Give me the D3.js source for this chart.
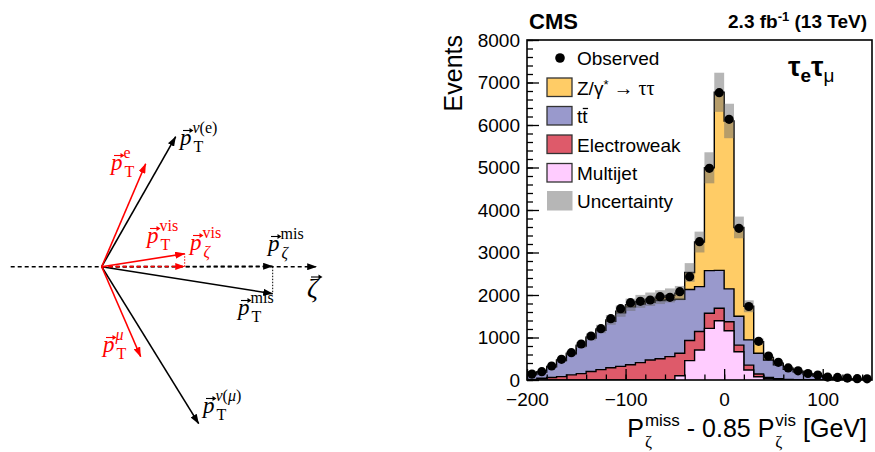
<!DOCTYPE html>
<html>
<head>
<meta charset="utf-8">
<script src="https://cdn.jsdelivr.net/npm/d3@7"></script>
<style>
  body { margin: 0; background: #fff; }
  svg { display: block; }
</style>
</head>
<body>
<svg id="chart" width="875" height="452"></svg>
<script>
// ---- Histogram data: 10 GeV bins of P_zeta^miss - 0.85 P_zeta^vis ----
const binCenters = [-195, -185, -175, -165, -155, -145, -135, -125, -115, -105,
                    -95, -85, -75, -65, -55, -45, -35, -25, -15, -5,
                    5, 15, 25, 35, 45, 55, 65, 75, 85, 95,
                    105, 115, 125, 135, 145];
const observed = [140, 196, 330, 486, 643, 847, 1035, 1208, 1443, 1678,
                  1820, 1851, 1882, 1961, 1945, 2078, 2431, 3255, 4980, 6761,
                  6133, 3569, 1730, 910, 565, 416, 285, 215, 153, 118,
                  70, 60, 45, 31, 27];
const multijet = [0, 0, 0, 0, 0, 0, 0, 0, 0, 0,
                  0, 0, 0, 0, 10, 100, 455, 705, 1215, 1395,
                  1160, 665, 235, 78, 30, 10, 5, 0, 0, 0,
                  0, 0, 0, 0, 0];
const electroweak = [15, 40, 60, 80, 120, 150, 200, 245, 290, 320,
                     360, 410, 470, 500, 540, 530, 475, 435, 355, 295,
                     210, 155, 115, 62, 30, 20, 10, 8, 5, 3,
                     2, 2, 2, 1, 1];
const ttbar = [115, 145, 250, 380, 495, 650, 790, 925, 1090, 1260,
               1360, 1380, 1360, 1370, 1340, 1270, 1200, 1056, 1003, 890,
               775, 680, 595, 490, 410, 325, 235, 187, 135, 92,
               53, 30, 18, 14, 9];
const ztautau = [5, 8, 10, 12, 15, 20, 25, 30, 35, 40,
                 50, 60, 70, 80, 100, 145, 400, 1050, 2420, 4190,
                 3950, 2090, 790, 270, 60, 40, 25, 15, 10, 8,
                 5, 4, 3, 2, 2];
const uncertainty = [12, 17, 27, 40, 52, 68, 84, 98, 115, 132,
                     145, 152, 158, 162, 165, 168, 220, 245, 365, 460,
                     405, 255, 140, 75, 45, 34, 24, 18, 13, 9,
                     6, 4, 3, 2, 2];

const xTicks = [-200, -100, 0, 100];
const yTicks = [0, 1000, 2000, 3000, 4000, 5000, 6000, 7000, 8000];
const processKeys = ["multijet", "electroweak", "ttbar", "ztautau"];

// ---- Transverse-momentum vectors of the sketch (arbitrary units, y up) ----
const electronPt = [44, 103];
const muonPt = [39, -90];
const neutrinoEPt = [74, 130];
const neutrinoMuPt = [97, -157];

const FONT = "'Liberation Sans', Arial, Helvetica, sans-serif";
const SERIF = "'Liberation Serif', 'Times New Roman', serif";

const svg = d3.select("#chart");

// =================== histogram panel ===================
const x = d3.scaleLinear().domain([-200, 150]).range([527, 872]);
const y = d3.scaleLinear().domain([0, 8000]).range([380, 40]);

svg.append("clipPath").attr("id", "plotclip")
  .append("rect").attr("x", 527).attr("y", 40).attr("width", 345).attr("height", 340);

const rows = binCenters.map((c, i) => ({
  center: c, multijet: multijet[i], electroweak: electroweak[i],
  ttbar: ttbar[i], ztautau: ztautau[i]
}));
const layers = d3.stack().keys(processKeys)(rows);
const halfBin = (binCenters[1] - binCenters[0]) / 2;

function stepPoints(values) {
  const pts = values.map((v, i) => [binCenters[i] - halfBin, v]);
  pts.push([binCenters[binCenters.length - 1] + halfBin, values[values.length - 1]]);
  return pts;
}

const area = d3.area().curve(d3.curveStepAfter)
  .x(p => x(p[0])).y0(y(0)).y1(p => y(p[1]));
const line = d3.line().curve(d3.curveStepAfter)
  .x(p => x(p[0])).y(p => y(p[1]));

const colors = {
  multijet: "#ffccff",
  electroweak: "#de5a6a",
  ttbar: "#9999cc",
  ztautau: "#ffcc66"
};

const plot = svg.append("g").attr("clip-path", "url(#plotclip)");

// cumulative stacks, largest first so each lower process overpaints
layers.slice().reverse().forEach(layer => {
  const pts = stepPoints(layer.map(d => d[1]));
  plot.append("path").attr("d", area(pts)).attr("fill", colors[layer.key]);
  plot.append("path").attr("d", line(pts)).attr("fill", "none")
    .attr("stroke", "#000").attr("stroke-width", 1.4);
});

// total background uncertainty
const totals = layers[layers.length - 1].map(d => d[1]);
plot.selectAll("rect.unc").data(binCenters).join("rect")
  .attr("class", "unc")
  .attr("x", c => x(c - halfBin))
  .attr("width", c => x(c + halfBin) - x(c - halfBin))
  .attr("y", (c, i) => y(totals[i] + uncertainty[i]))
  .attr("height", (c, i) => y(totals[i] - uncertainty[i]) - y(totals[i] + uncertainty[i]))
  .attr("fill", "#6e6e6e").attr("fill-opacity", 0.5);

// observed data
svg.append("g").selectAll("circle").data(binCenters).join("circle")
  .attr("cx", c => x(c)).attr("cy", (c, i) => y(observed[i]))
  .attr("r", 4.6).attr("fill", "#000");

// axes
const fmt = d => d < 0 ? "\u2212" + Math.abs(d) : String(d);
function styleAxis(g) {
  g.select(".domain").remove();
  g.selectAll("line").attr("stroke", "#000").attr("stroke-width", 1.3);
  g.selectAll("text").attr("font-family", FONT).attr("font-size", 19).attr("fill", "#000");
}
svg.append("g").attr("transform", "translate(0,380)")
  .call(d3.axisBottom(x).tickValues(d3.range(-200, 151, 20)).tickSize(-5.5).tickFormat(""))
  .call(styleAxis);
svg.append("g").attr("transform", "translate(0,380)")
  .call(d3.axisBottom(x).tickValues(xTicks).tickSize(-11).tickPadding(13).tickFormat(fmt))
  .call(styleAxis);
svg.append("g").attr("transform", "translate(527,0)")
  .call(d3.axisLeft(y).tickValues(d3.range(0, 8001, 200)).tickSize(-6).tickFormat(""))
  .call(styleAxis);
svg.append("g").attr("transform", "translate(527,0)")
  .call(d3.axisLeft(y).tickValues(yTicks).tickSize(-12).tickPadding(7).tickFormat(d3.format("d")))
  .call(styleAxis);

svg.append("rect").attr("x", 527).attr("y", 40).attr("width", 345).attr("height", 340)
  .attr("fill", "none").attr("stroke", "#000").attr("stroke-width", 1.6);

// helper for plain text
function addText(g, str, tx, ty, size, opts = {}) {
  return g.append("text").attr("x", tx).attr("y", ty)
    .attr("font-size", size)
    .attr("font-family", opts.family || FONT)
    .attr("font-weight", opts.weight || "normal")
    .attr("font-style", opts.style || "normal")
    .attr("text-anchor", opts.anchor || "start")
    .attr("fill", opts.fill || "#000")
    .text(str);
}
const widthOf = t => t.node().getComputedTextLength();

// axis titles
svg.append("text")
  .attr("transform", "translate(462,35) rotate(-90)")
  .attr("text-anchor", "end").attr("font-family", FONT).attr("font-size", 25)
  .text("Events");

const xt = svg.append("g");
{
  let cx = 0;
  const base = 437;
  const piece = (s, size, dy, fam) => addText(xt, s, cx, base + dy, size, { family: fam || FONT });
  let t = piece("P", 25, 0); cx += widthOf(t) + 1;
  const a = piece("miss", 17, -11); const b = piece("\u03b6", 17, 10, SERIF);
  cx += Math.max(widthOf(a), widthOf(b));
  t = piece("\u00a0- 0.85 P", 25, 0); cx += widthOf(t) + 1;
  const c2 = piece("vis", 17, -11); const d2 = piece("\u03b6", 17, 10, SERIF);
  cx += Math.max(widthOf(c2), widthOf(d2));
  t = piece("\u00a0[GeV]", 25, 0); cx += widthOf(t);
  xt.attr("transform", `translate(${867 - cx},0)`);
}

// header
addText(svg, "CMS", 529, 29, 22, { weight: "bold" });
svg.append("text").attr("x", 867).attr("y", 28).attr("text-anchor", "end")
  .attr("font-family", FONT).attr("font-weight", "bold").attr("font-size", 19)
  .call(t => {
    t.append("tspan").text("2.3 fb");
    t.append("tspan").attr("font-size", 13).attr("dy", -7).text("-1");
    t.append("tspan").attr("dy", 7).text(" (13 TeV)");
  });

// channel label
svg.append("text").attr("x", 788).attr("y", 76).attr("font-family", FONT)
  .call(t => {
    t.append("tspan").attr("font-size", 28).attr("font-weight", "bold").text("\u03c4");
    t.append("tspan").attr("font-size", 19).attr("font-weight", "bold").attr("dy", 6).text("e");
    t.append("tspan").attr("font-size", 28).attr("font-weight", "bold").attr("dy", -6).text("\u03c4");
    t.append("tspan").attr("font-size", 19).attr("dy", 6).text("\u03bc");
  });

// legend
const leg = svg.append("g");
leg.append("circle").attr("cx", 560).attr("cy", 58).attr("r", 4.8).attr("fill", "#000");
addText(leg, "Observed", 577, 65, 19);
const legendBoxes = [
  { key: "ztautau", y: 78 },
  { key: "ttbar", y: 106.5 },
  { key: "electroweak", y: 135 },
  { key: "multijet", y: 163.5 }
];
legendBoxes.forEach(b => {
  leg.append("rect").attr("x", 547).attr("y", b.y).attr("width", 25).attr("height", 18.5)
    .attr("fill", colors[b.key]).attr("stroke", "#333").attr("stroke-width", 1.3);
});
leg.append("rect").attr("x", 547).attr("y", 191).attr("width", 25.5).attr("height", 19.5)
  .attr("fill", "#6e6e6e").attr("fill-opacity", 0.5);

leg.append("text").attr("x", 577).attr("y", 95).attr("font-family", FONT).attr("font-size", 19)
  .call(t => {
    t.append("tspan").text("Z/\u03b3");
    t.append("tspan").attr("font-size", 13).attr("dy", -6).text("*");
    t.append("tspan").attr("dy", 6).attr("font-family", SERIF).attr("font-size", 20).text(" \u2192 \u03c4\u03c4");
  });
{
  const t1 = addText(leg, "t", 577, 123, 19);
  const w1 = widthOf(t1);
  const t2 = addText(leg, "t", 577 + w1, 123, 19);
  const w2 = widthOf(t2);
  leg.append("line").attr("x1", 577 + w1 + 0.5).attr("x2", 577 + w1 + w2 + 0.5)
    .attr("y1", 108.5).attr("y2", 108.5).attr("stroke", "#000").attr("stroke-width", 1.3);
}
addText(leg, "Electroweak", 577, 152, 19);
addText(leg, "Multijet", 577, 180, 19);
addText(leg, "Uncertainty", 577, 208, 19);

// =================== vector sketch panel ===================
const add = (a, b) => [a[0] + b[0], a[1] + b[1]];
const visiblePt = add(electronPt, muonPt);
const missingPt = add(neutrinoEPt, neutrinoMuPt);
// zeta axis: bisector of the two lepton directions
const unit = v => { const n = Math.hypot(v[0], v[1]); return [v[0] / n, v[1] / n]; };
const zeta = unit(add(unit(electronPt), unit(muonPt)));
const proj = v => { const s = v[0] * zeta[0] + v[1] * zeta[1]; return [s * zeta[0], s * zeta[1]]; };
const visibleZeta = proj(visiblePt);
const missingZeta = proj(missingPt);

const sx = d3.scaleLinear().domain([0, 100]).range([101.7, 201.7]);
const sy = d3.scaleLinear().domain([0, 100]).range([266.7, 166.7]);

const defs = svg.append("defs");
["#000", "#ff0000"].forEach((col, i) => {
  defs.append("marker").attr("id", "head" + i)
    .attr("viewBox", "0 0 10 7").attr("refX", 9.5).attr("refY", 3.5)
    .attr("markerWidth", 10).attr("markerHeight", 7)
    .attr("markerUnits", "userSpaceOnUse").attr("orient", "auto")
    .append("path").attr("d", "M0,0 L10,3.5 L0,7 z").attr("fill", col);
});

const sk = svg.append("g");
function arrow(v, col, dash) {
  const p = sk.append("line")
    .attr("x1", sx(0)).attr("y1", sy(0))
    .attr("x2", sx(v[0])).attr("y2", sy(v[1]))
    .attr("stroke", col).attr("stroke-width", 1.6)
    .attr("marker-end", `url(#head${col === "#000" ? 0 : 1})`);
  if (dash) p.attr("stroke-dasharray", dash);
  return p;
}
// zeta axis (dashed)
sk.append("line")
  .attr("x1", sx(-91)).attr("y1", sy(0)).attr("x2", sx(215)).attr("y2", sy(0))
  .attr("stroke", "#000").attr("stroke-width", 1.6).attr("stroke-dasharray", "4,3")
  .attr("marker-end", "url(#head0)");
arrow(missingZeta, "#000", "4,3");
arrow(neutrinoEPt, "#000");
arrow(neutrinoMuPt, "#000");
arrow(missingPt, "#000");
arrow(visibleZeta, "#ff0000", "4,3");
arrow(electronPt, "#ff0000");
arrow(muonPt, "#ff0000");
arrow(visiblePt, "#ff0000");
// projection guides
sk.append("line").attr("x1", sx(missingPt[0])).attr("x2", sx(missingPt[0]))
  .attr("y1", sy(0)).attr("y2", sy(missingPt[1]))
  .attr("stroke", "#000").attr("stroke-width", 1).attr("stroke-dasharray", "1.5,1.5");
sk.append("line").attr("x1", sx(visiblePt[0])).attr("x2", sx(visiblePt[0]))
  .attr("y1", sy(0)).attr("y2", sy(visiblePt[1]))
  .attr("stroke", "#ff0000").attr("stroke-width", 1).attr("stroke-dasharray", "1.5,1.5");

// vector labels: p with arrow accent, superscript and subscript
function vecLabel(px, py, sup, sub, col, subItalic) {
  const g = sk.append("g");
  const p = addText(g, "p", px, py, 23, { family: SERIF, style: "italic", fill: col });
  const w = widthOf(p);
  g.append("line").attr("x1", px + 3).attr("x2", px + 11).attr("y1", py - 14.5).attr("y2", py - 14.5)
    .attr("stroke", col).attr("stroke-width", 1.1);
  g.append("path").attr("d", `M${px + 13.5},${py - 14.5} L${px + 9.5},${py - 17} L${px + 9.5},${py - 12} z`)
    .attr("fill", col);
  const sp = g.append("text").attr("x", px + w + 1).attr("y", py - 12.5)
    .attr("font-family", SERIF).attr("font-size", 16).attr("fill", col);
  sup.forEach(s => sp.append("tspan").attr("font-style", s.italic ? "italic" : "normal").text(s.t));
  addText(g, sub, px + w + 2, py + 7, 16, { family: SERIF, fill: col, style: subItalic ? "italic" : "normal" });
}
vecLabel(180, 145, [{ t: "\u03bd", italic: true }, { t: "(e)" }], "T", "#000");
vecLabel(111, 170, [{ t: "e" }], "T", "#ff0000");
vecLabel(147, 243, [{ t: "vis" }], "T", "#ff0000");
vecLabel(190, 250, [{ t: "vis" }], "\u03b6", "#ff0000", true);
vecLabel(268, 251, [{ t: "mis" }], "\u03b6", "#000", true);
vecLabel(238, 315, [{ t: "mis" }], "T", "#000");
vecLabel(103, 352, [{ t: "\u03bc", italic: true }], "T", "#ff0000");
vecLabel(203, 413, [{ t: "\u03bd", italic: true }, { t: "(" }, { t: "\u03bc", italic: true }, { t: ")" }], "T", "#000");

// zeta-axis symbol
addText(sk, "\u03b6", 307, 297, 27, { family: SERIF, style: "italic" });
sk.append("line").attr("x1", 311).attr("x2", 320).attr("y1", 277).attr("y2", 277)
  .attr("stroke", "#000").attr("stroke-width", 1.1);
sk.append("path").attr("d", "M322.5,277 L318.5,274.5 L318.5,279.5 z").attr("fill", "#000");
</script>
</body>
</html>
